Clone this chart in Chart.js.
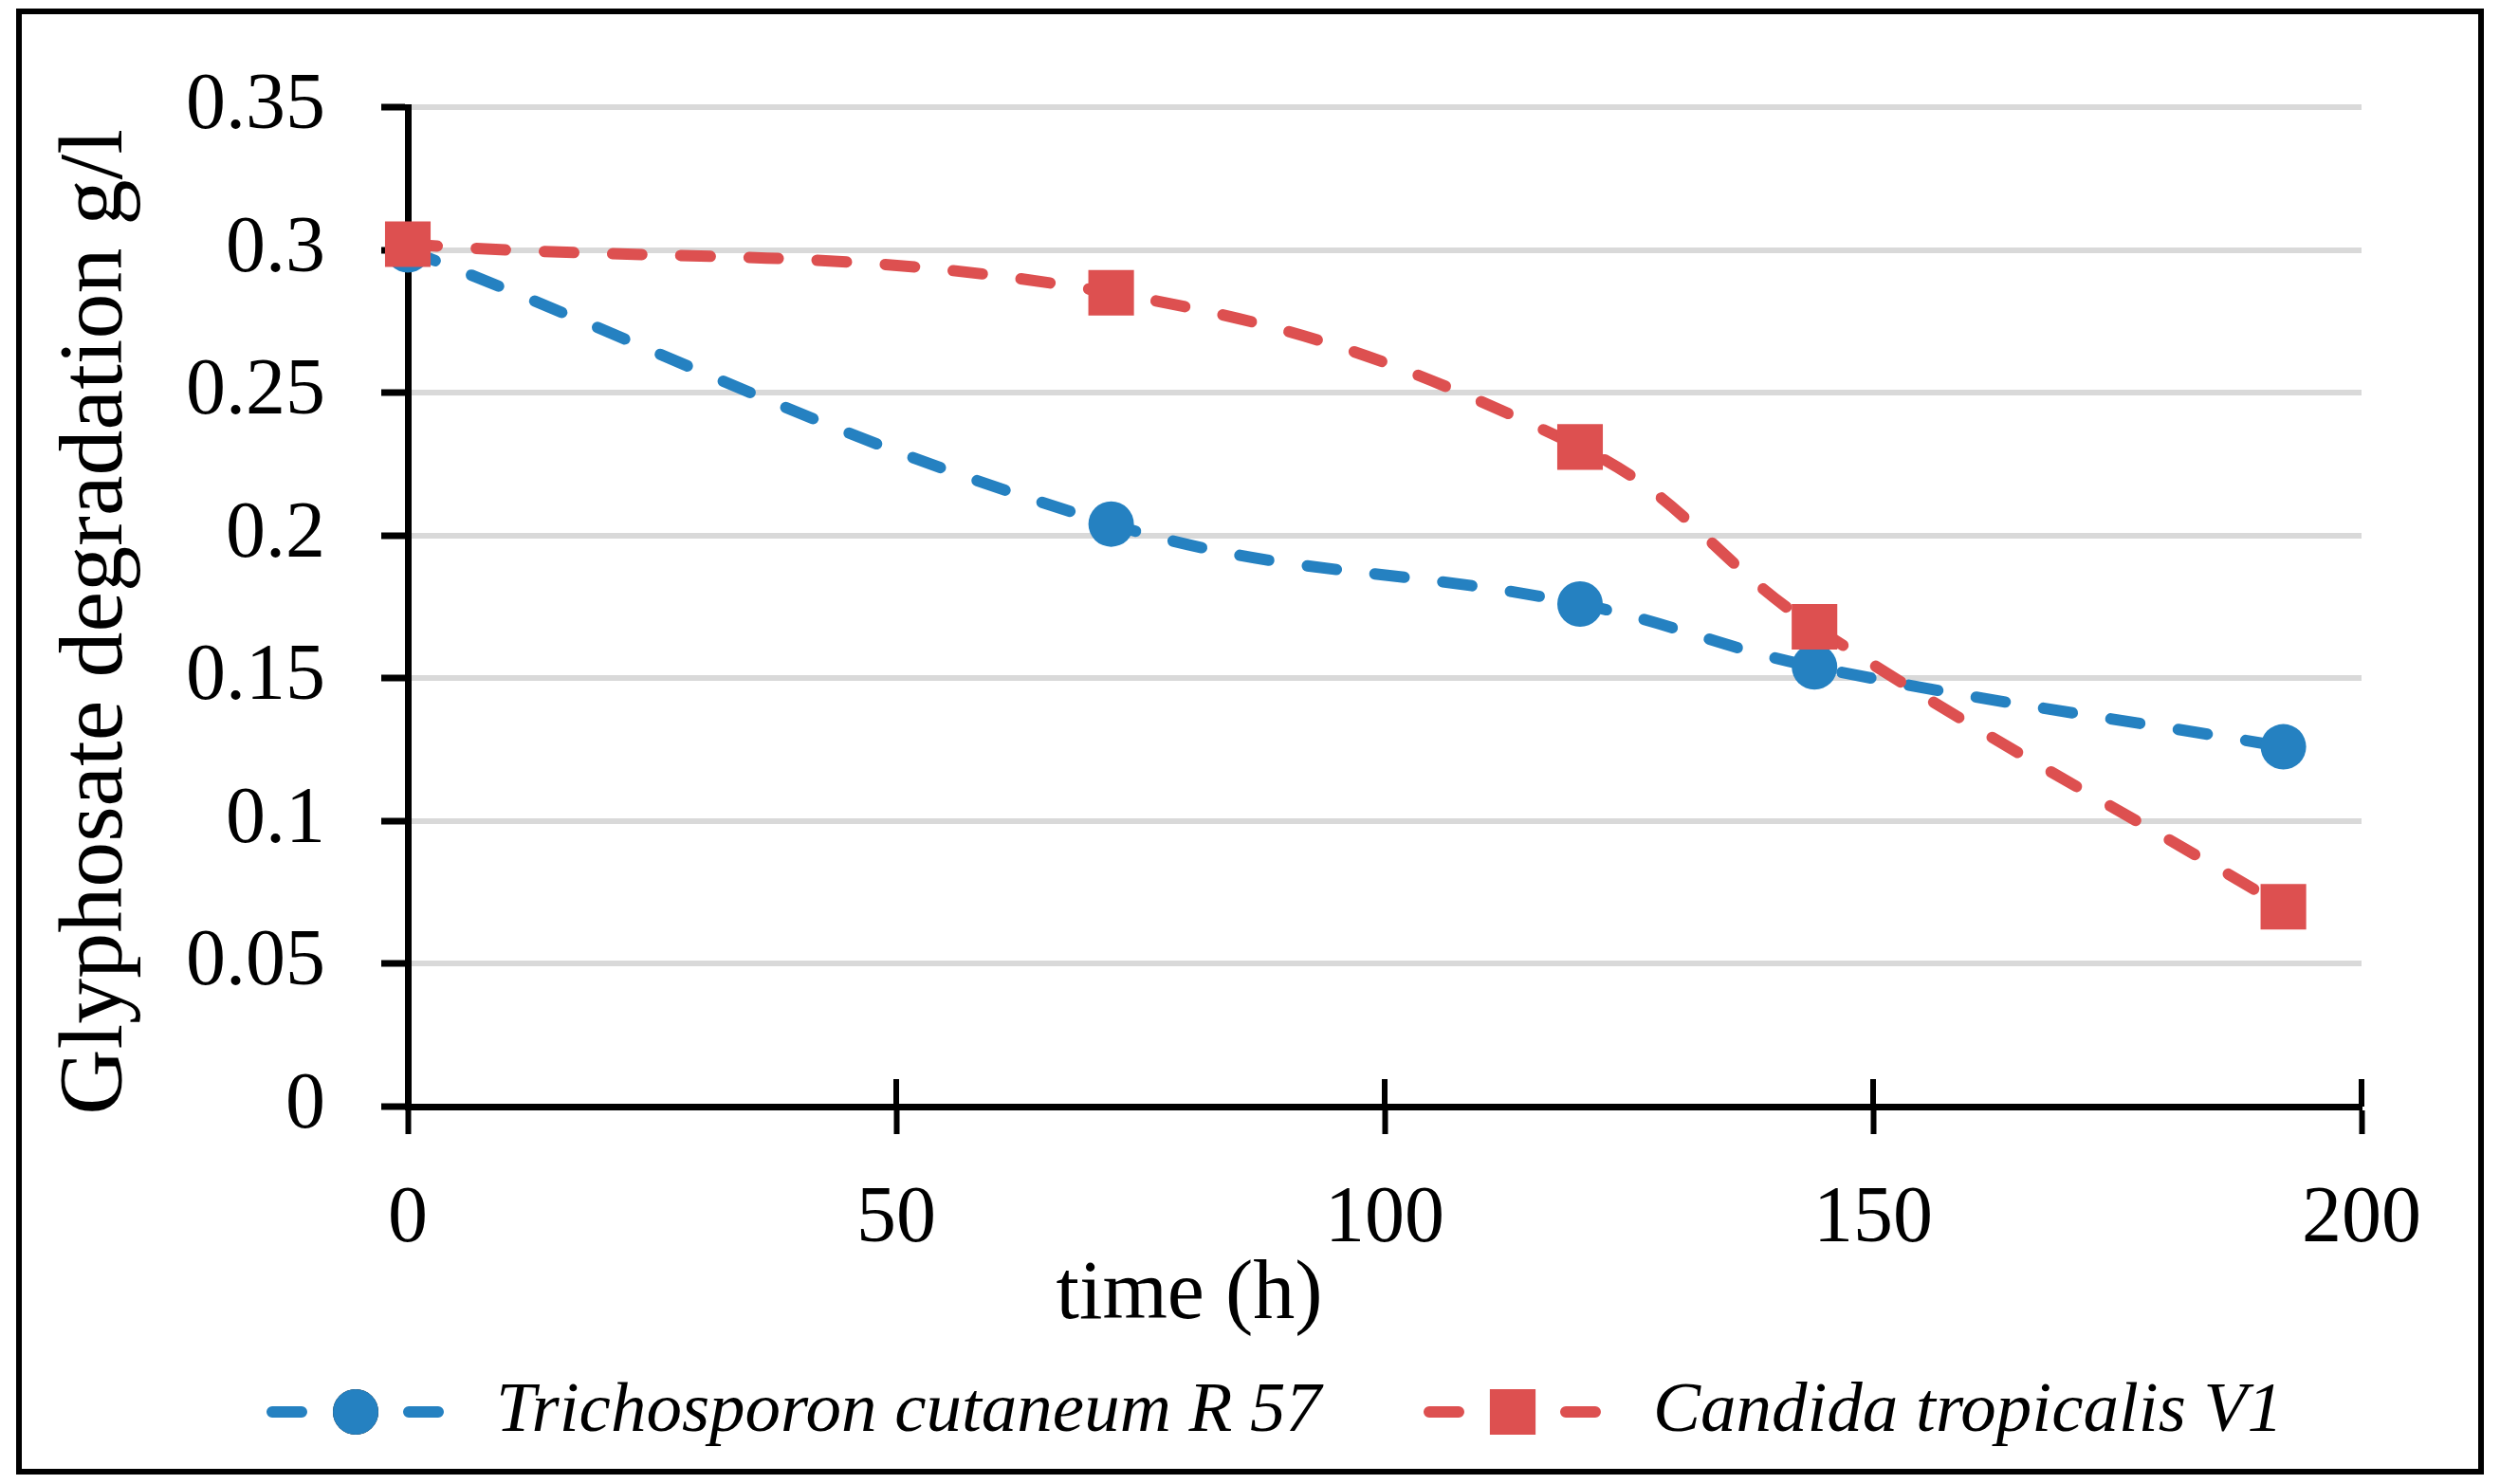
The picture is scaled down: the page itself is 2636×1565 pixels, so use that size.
<!DOCTYPE html>
<html>
<head>
<meta charset="utf-8">
<script src="https://cdn.jsdelivr.net/npm/chart.js@4.4.1/dist/chart.umd.min.js"></script>
<style>
  html, body { margin: 0; padding: 0; background: #fff; }
  canvas { display: block; }
</style>
</head>
<body>
<canvas id="myChart" width="2636" height="1565" style="width:2636px;height:1565px"></canvas>
<script>
// data
const hours = [0, 72, 120, 144, 192];
const trichosporon = [0.300, 0.204, 0.176, 0.154, 0.126];
const candida = [0.302, 0.285, 0.231, 0.168, 0.070];
const seriesNames = ['Trichosporon cutaneum R 57', 'Candida tropicalis V1'];
const xTitle = 'time (h)';
const yTitle = 'Glyphosate degradation g/l';

const BLUE = '#2581C1';
const RED = '#DD5050';
const SERIF = "'Liberation Serif', 'DejaVu Serif', serif";

function toPoints(ys) {
  return hours.map((h, i) => ({ x: h, y: ys[i] }));
}

const lineStyle = {
  borderWidth: 12,
  borderDash: [31, 41],
  borderCapStyle: 'round',
  tension: 0.4,
  pointBorderWidth: 0,
  clip: false,
  fill: false
};

// frame, inner x ticks, axis titles and legend
const decor = {
  id: 'decor',
  beforeDraw(chart) {
    const ctx = chart.ctx;
    ctx.save();
    ctx.fillStyle = '#fff';
    ctx.fillRect(0, 0, chart.width, chart.height);
    ctx.restore();
  },
  beforeDatasetsDraw(chart) {
    const ctx = chart.ctx;
    const xs = chart.scales.x;
    const area = chart.chartArea;
    ctx.save();
    ctx.strokeStyle = '#000';
    ctx.lineWidth = 6;
    xs.ticks.forEach(t => {
      const px = xs.getPixelForValue(t.value);
      ctx.beginPath();
      ctx.moveTo(px, area.bottom - 29);
      ctx.lineTo(px, area.bottom);
      ctx.stroke();
    });
    ctx.restore();
  },
  afterDraw(chart) {
    const ctx = chart.ctx;
    const area = chart.chartArea;
    ctx.save();

    // x axis title (sits left of centre like the original)
    ctx.fillStyle = '#000';
    ctx.font = '88px ' + SERIF;
    ctx.textAlign = 'center';
    ctx.textBaseline = 'alphabetic';
    ctx.fillText(xTitle, area.left + 0.4 * (area.right - area.left), 1390);

    // y axis title, a little below the plot's middle
    ctx.save();
    ctx.translate(103, 656);
    ctx.rotate(-Math.PI / 2);
    ctx.font = '96px ' + SERIF;
    ctx.textBaseline = 'middle';
    ctx.fillText(yTitle, 0, 0);
    ctx.restore();

    // legend
    const starts = [281, 1501];
    const legendY = 1489;
    chart.data.datasets.forEach((ds, i) => {
      const x0 = starts[i];
      ctx.save();
      ctx.strokeStyle = ds.borderColor;
      ctx.lineWidth = ds.borderWidth;
      ctx.lineCap = 'round';
      ctx.setLineDash(ds.borderDash);
      ctx.beginPath();
      ctx.moveTo(x0 + 6, legendY);
      ctx.lineTo(x0 + 182, legendY);
      ctx.stroke();
      ctx.setLineDash([]);
      Chart.helpers.drawPoint(ctx, {
        pointStyle: ds.pointStyle,
        radius: ds.pointRadius,
        borderWidth: 0,
        rotation: 0
      }, x0 + 94, legendY);
      ctx.fillStyle = ds.backgroundColor;
      ctx.fill();
      ctx.restore();

      ctx.fillStyle = '#000';
      ctx.font = 'italic 75px ' + SERIF;
      ctx.textAlign = 'left';
      ctx.textBaseline = 'middle';
      ctx.fillText(ds.label, x0 + 242, legendY);
    });

    // outer frame
    ctx.strokeStyle = '#000';
    ctx.lineWidth = 6;
    ctx.strokeRect(20, 12, 2596, 1540);
    ctx.restore();
  }
};

const data = {
  datasets: [
    Object.assign({
      label: seriesNames[0],
      data: toPoints(trichosporon),
      borderColor: BLUE,
      backgroundColor: BLUE,
      pointStyle: 'circle',
      pointRadius: 24,
      order: 1
    }, lineStyle),
    Object.assign({
      label: seriesNames[1],
      data: toPoints(candida),
      borderColor: RED,
      backgroundColor: RED,
      pointStyle: 'rect',
      pointRadius: 34,
      order: 0
    }, lineStyle)
  ]
};

const config = {
  type: 'line',
  data,
  options: {
    responsive: false,
    animation: false,
    devicePixelRatio: 1,
    layout: { padding: { left: 0, right: 146, top: 113, bottom: 0 } },
    plugins: {
      legend: { display: false },
      tooltip: { enabled: false }
    },
    scales: {
      x: {
        type: 'linear',
        min: 0,
        max: 200,
        afterFit: s => { s.height = 398; },
        ticks: {
          stepSize: 50,
          color: '#000',
          padding: 41,
          font: { family: SERIF, size: 84 }
        },
        grid: {
          drawOnChartArea: false,
          drawTicks: true,
          tickLength: 29,
          tickWidth: 6,
          tickColor: '#000'
        },
        border: { color: '#000', width: 7 }
      },
      y: {
        min: 0,
        max: 0.35,
        afterFit: s => { s.width = 430; },
        ticks: {
          stepSize: 0.05,
          color: '#000',
          padding: 59,
          font: { family: SERIF, size: 84 },
          callback: v => String(+v.toFixed(2))
        },
        grid: {
          color: '#D9D9D9',
          lineWidth: 6,
          drawTicks: true,
          tickLength: 28,
          tickWidth: 7,
          tickColor: '#000'
        },
        border: { color: '#000', width: 7 }
      }
    }
  },
  plugins: [decor]
};

const myChart = new Chart(document.getElementById('myChart'), config);
</script>
</body>
</html>
